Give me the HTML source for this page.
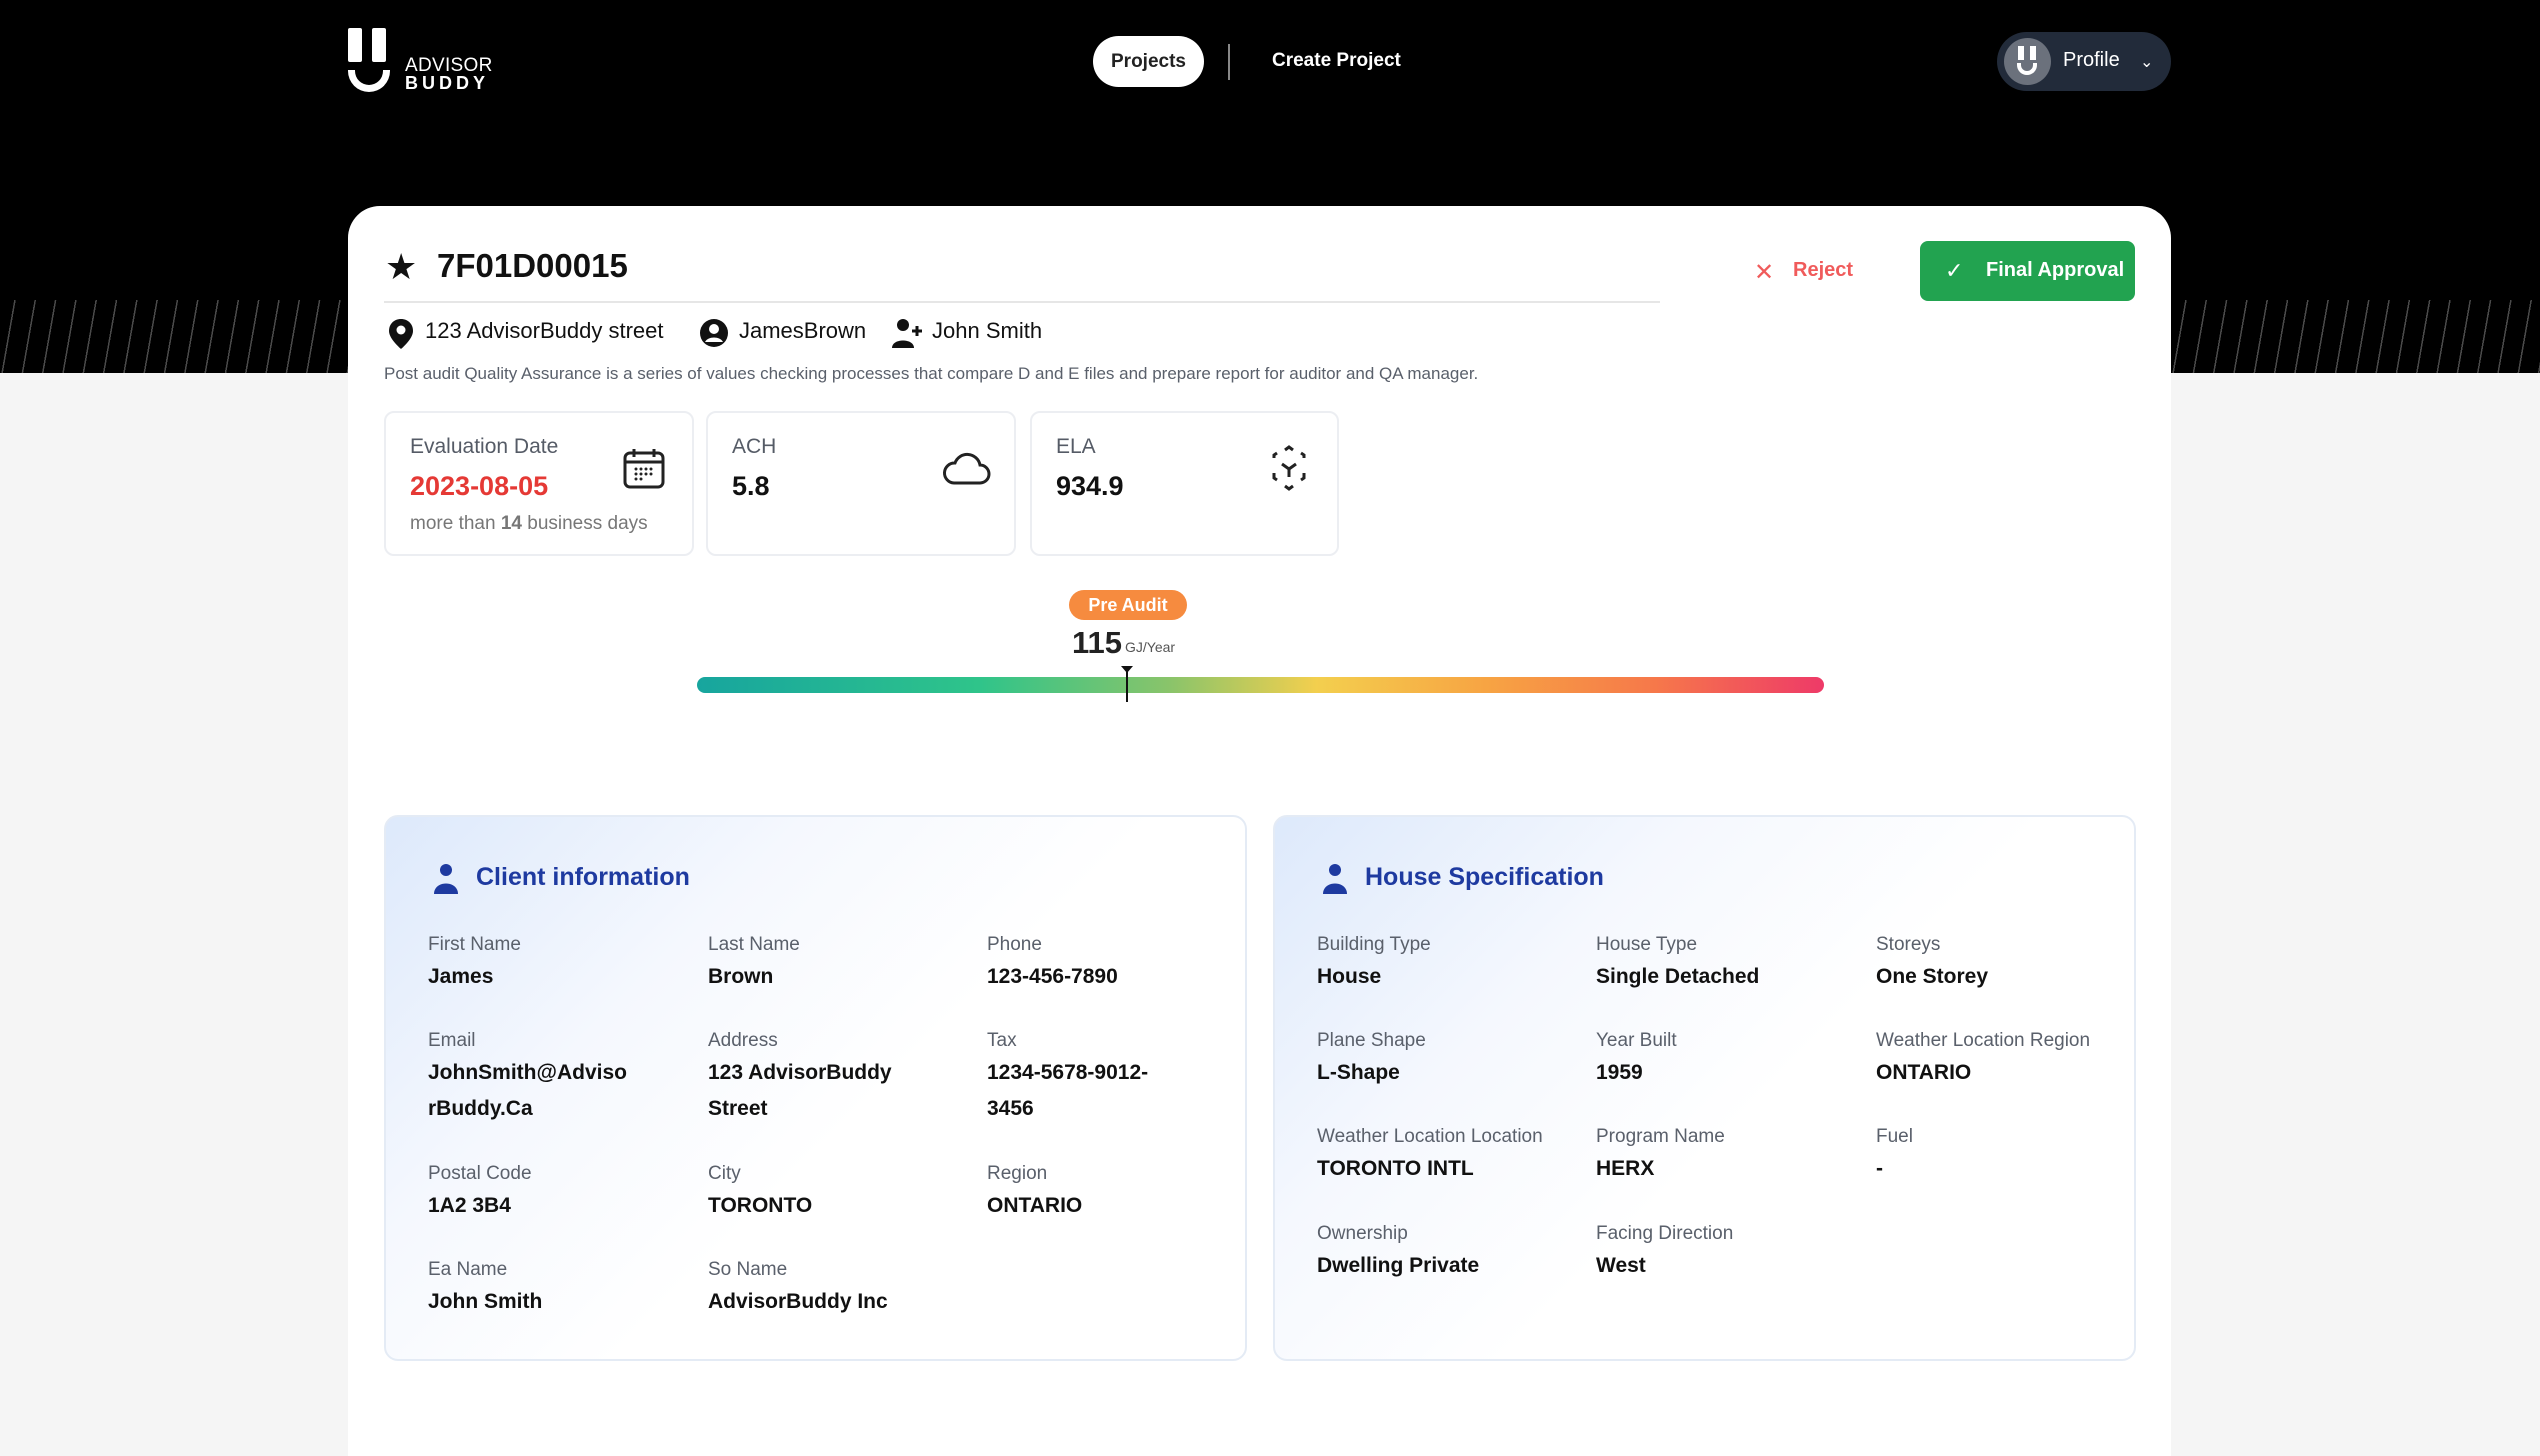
<!DOCTYPE html>
<html><head><meta charset="utf-8"><style>
*{margin:0;padding:0;box-sizing:border-box}
body{width:2540px;height:1410px;background:#f5f5f5;font-family:"Liberation Sans",sans-serif;position:relative;overflow:hidden;color:#111}
.hdr{position:absolute;left:0;top:0;width:2540px;height:373px;background:#000}
.hatch{position:absolute;top:300px;height:73px;background:repeating-linear-gradient(100deg,transparent 0 14px,#4a4a4a 14px 15.5px,transparent 15.5px 20px)}
.a{position:absolute;white-space:nowrap}
.card{position:absolute;left:348px;top:206px;width:1823px;height:1250px;background:#fff;border-radius:32px 32px 0 0}
.stat{position:absolute;top:411px;height:145px;border:2px solid #eceef2;border-radius:10px;background:#fff}
.stat .l{position:absolute;left:24px;top:22px;font-size:21px;color:#555b66}
.stat .v{position:absolute;left:24px;top:58px;font-size:27px;font-weight:bold;color:#111}
.panel{position:absolute;top:815px;height:546px;width:863px;border:2px solid #e4ebf5;border-radius:14px;background:linear-gradient(135deg,#dde9fb 0%,#f5f8fe 30%,#fff 55%)}
.pt{position:absolute;top:46px;left:90px;font-size:25px;font-weight:bold;color:#1e3aa0}
.lb{position:absolute;font-size:19px;color:#5a606b}
.vl{position:absolute;font-size:21px;font-weight:bold;color:#111;line-height:36px}
</style></head><body>
<div class="hdr"></div>
<div class="hatch" style="left:0;width:350px"></div>
<div class="hatch" style="left:2171px;width:369px"></div>
<div class="a" style="left:348px;top:28px;width:14px;height:34px;background:#fff;border-radius:2px"></div>
<div class="a" style="left:372px;top:28px;width:14px;height:34px;background:#fff;border-radius:2px"></div>
<div class="a" style="left:348px;top:70px;width:42px;height:22px;border:7px solid #fff;border-top:none;border-radius:0 0 21px 21px"></div>
<div class="a" style="left:405px;top:55px;color:#fff;font-size:19px;letter-spacing:0.3px">ADVISOR</div>
<div class="a" style="left:405px;top:73px;color:#fff;font-size:18px;font-weight:bold;letter-spacing:4px">BUDDY</div>
<div class="a" style="left:1093px;top:36px;width:111px;height:51px;background:#fff;border-radius:26px;font-size:19px;font-weight:bold;line-height:51px;text-align:center;color:#222">Projects</div>
<div class="a" style="left:1228px;top:44px;width:2px;height:36px;background:#888"></div>
<div class="a" style="left:1272px;top:50px;color:#fff;font-size:19px;font-weight:bold">Create Project</div>
<div class="a" style="left:1997px;top:32px;width:174px;height:59px;background:#222b3a;border-radius:30px"></div>
<div class="a" style="left:2004px;top:38px;width:47px;height:47px;background:#6b717c;border-radius:50%"></div>
<div class="a" style="left:2018px;top:46px;width:6px;height:14px;background:#fff"></div>
<div class="a" style="left:2030px;top:46px;width:6px;height:14px;background:#fff"></div>
<div class="a" style="left:2017px;top:63px;width:20px;height:12px;border:4px solid #fff;border-top:none;border-radius:0 0 10px 10px"></div>
<div class="a" style="left:2063px;top:49px;color:#fff;font-size:20px">Profile</div>
<div class="a" style="left:2140px;top:52px;color:#fff;font-size:16px">&#8964;</div>
<div class="card"></div>
<div class="a" style="left:385px;top:246px;font-size:36px">&#9733;</div>
<div class="a" style="left:437px;top:247px;font-size:33px;font-weight:bold">7F01D00015</div>
<div class="a" style="left:384px;top:301px;width:1276px;height:2px;background:#e6e6e6"></div>
<div class="a" style="left:1754px;top:258px;font-size:24px;color:#f05b5b">&#10005;</div>
<div class="a" style="left:1793px;top:259px;font-size:20px;font-weight:bold;color:#f05b5b">Reject</div>
<div class="a" style="left:1920px;top:241px;width:215px;height:60px;background:#22a350;border-radius:8px"></div>
<div class="a" style="left:1945px;top:258px;font-size:22px;color:#fff">&#10003;</div>
<div class="a" style="left:1986px;top:259px;font-size:20px;font-weight:bold;color:#fff">Final Approval</div>
<svg class="a" style="left:388px;top:318px" width="26" height="32" viewBox="0 0 26 32"><path d="M13 1C6 1 1 6 1 13c0 8 12 18 12 18s12-10 12-18C25 6 20 1 13 1z" fill="#111"/><circle cx="13" cy="12" r="4.5" fill="#fff"/></svg>
<div class="a" style="left:425px;top:318px;font-size:22px">123 AdvisorBuddy street</div>
<svg class="a" style="left:699px;top:318px" width="30" height="30" viewBox="0 0 30 30"><circle cx="15" cy="15" r="14" fill="#111"/><circle cx="15" cy="11" r="5" fill="#fff"/><path d="M6 24c3-6 15-6 18 0" fill="#fff"/></svg>
<div class="a" style="left:739px;top:318px;font-size:22px">JamesBrown</div>
<svg class="a" style="left:891px;top:316px" width="34" height="34" viewBox="0 0 34 34"><circle cx="12" cy="9" r="6" fill="#111"/><path d="M1 32c0-10 22-10 22 0z" fill="#111"/><path d="M26 10v10M21 15h10" stroke="#111" stroke-width="3"/></svg>
<div class="a" style="left:932px;top:318px;font-size:22px">John Smith</div>
<div class="a" style="left:384px;top:364px;font-size:17px;color:#5a606b">Post audit Quality Assurance is a series of values checking processes that compare D and E files and prepare report for auditor and QA manager.</div>
<div class="stat" style="left:384px;width:310px"><div class="l">Evaluation Date</div><div class="v" style="color:#e53935">2023-08-05</div><div class="a" style="left:24px;top:100px;font-size:19px;color:#777">more than <b>14</b> business days</div>
<svg class="a" style="left:236px;top:34px" width="44" height="44" viewBox="0 0 44 44"><rect x="3" y="6" width="38" height="34" rx="5" fill="none" stroke="#222" stroke-width="3"/><path d="M3 15h38M12 2v8M32 2v8" stroke="#222" stroke-width="3"/><g fill="#222"><circle cx="14" cy="22" r="1.5"/><circle cx="19" cy="22" r="1.5"/><circle cx="24" cy="22" r="1.5"/><circle cx="29" cy="22" r="1.5"/><circle cx="14" cy="27" r="1.5"/><circle cx="19" cy="27" r="1.5"/><circle cx="24" cy="27" r="1.5"/><circle cx="29" cy="27" r="1.5"/><circle cx="14" cy="32" r="1.5"/><circle cx="19" cy="32" r="1.5"/></g></svg></div>
<div class="stat" style="left:706px;width:310px"><div class="l">ACH</div><div class="v">5.8</div>
<svg class="a" style="left:234px;top:34px" width="50" height="40" viewBox="0 0 50 40"><path d="M12 36h26a9 9 0 0 0 0-18 13 13 0 0 0-25-2A10 10 0 0 0 12 36z" fill="none" stroke="#222" stroke-width="3"/></svg></div>
<div class="stat" style="left:1030px;width:309px"><div class="l">ELA</div><div class="v">934.9</div>
<svg class="a" style="left:234px;top:32px" width="46" height="46" viewBox="0 0 46 46" fill="none" stroke="#222" stroke-width="3"><path d="M19 5l4-3 4 3M8 13v-3l3-2M35 8l3 2v3M8 28v5l3 2M38 28v5l-3 2M19 41l4 3 4-3M16 19l7 5 7-5M23 24v8"/></svg></div>
<div class="a" style="left:1069px;top:590px;width:118px;height:30px;background:#f68b3f;border-radius:15px;color:#fff;font-size:18px;font-weight:bold;text-align:center;line-height:30px">Pre Audit</div>
<div class="a" style="left:1072px;top:625px;font-size:31px;font-weight:bold;color:#222">115</div>
<div class="a" style="left:1125px;top:639px;font-size:14px;color:#555">GJ/Year</div>
<div class="a" style="left:697px;top:677px;width:1127px;height:16px;border-radius:8px;background:linear-gradient(90deg,#17a59e 0%,#2fc48a 25%,#8ac46a 42%,#f3cf4e 55%,#f7a443 70%,#f6784a 85%,#ee3a68 100%)"></div>
<div class="a" style="left:1126px;top:670px;width:2px;height:32px;background:#111"></div>
<div class="a" style="left:1121px;top:666px;width:0;height:0;border-left:6px solid transparent;border-right:6px solid transparent;border-top:7px solid #111"></div>
<div class="panel" style="left:384px">
<svg class="a" style="left:46px;top:46px" width="28" height="32" viewBox="0 0 28 32"><circle cx="14" cy="7" r="6" fill="#1e3aa0"/><path d="M2 31c0-14 24-14 24 0z" fill="#1e3aa0"/></svg>
<div class="pt">Client information</div>
<div class="lb" style="left:42px;top:117px">First Name</div><div class="vl" style="left:42px;top:142px">James</div>
<div class="lb" style="left:322px;top:117px">Last Name</div><div class="vl" style="left:322px;top:142px">Brown</div>
<div class="lb" style="left:601px;top:117px">Phone</div><div class="vl" style="left:601px;top:142px">123-456-7890</div>
<div class="lb" style="left:42px;top:213px">Email</div><div class="vl" style="left:42px;top:238px">JohnSmith@Adviso<br>rBuddy.Ca</div>
<div class="lb" style="left:322px;top:213px">Address</div><div class="vl" style="left:322px;top:238px">123 AdvisorBuddy<br>Street</div>
<div class="lb" style="left:601px;top:213px">Tax</div><div class="vl" style="left:601px;top:238px">1234-5678-9012-<br>3456</div>
<div class="lb" style="left:42px;top:346px">Postal Code</div><div class="vl" style="left:42px;top:371px">1A2 3B4</div>
<div class="lb" style="left:322px;top:346px">City</div><div class="vl" style="left:322px;top:371px">TORONTO</div>
<div class="lb" style="left:601px;top:346px">Region</div><div class="vl" style="left:601px;top:371px">ONTARIO</div>
<div class="lb" style="left:42px;top:442px">Ea Name</div><div class="vl" style="left:42px;top:467px">John Smith</div>
<div class="lb" style="left:322px;top:442px">So Name</div><div class="vl" style="left:322px;top:467px">AdvisorBuddy Inc</div>
</div>
<div class="panel" style="left:1273px">
<svg class="a" style="left:46px;top:46px" width="28" height="32" viewBox="0 0 28 32"><circle cx="14" cy="7" r="6" fill="#1e3aa0"/><path d="M2 31c0-14 24-14 24 0z" fill="#1e3aa0"/></svg>
<div class="pt">House Specification</div>
<div class="lb" style="left:42px;top:117px">Building Type</div><div class="vl" style="left:42px;top:142px">House</div>
<div class="lb" style="left:321px;top:117px">House Type</div><div class="vl" style="left:321px;top:142px">Single Detached</div>
<div class="lb" style="left:601px;top:117px">Storeys</div><div class="vl" style="left:601px;top:142px">One Storey</div>
<div class="lb" style="left:42px;top:213px">Plane Shape</div><div class="vl" style="left:42px;top:238px">L-Shape</div>
<div class="lb" style="left:321px;top:213px">Year Built</div><div class="vl" style="left:321px;top:238px">1959</div>
<div class="lb" style="left:601px;top:213px">Weather Location Region</div><div class="vl" style="left:601px;top:238px">ONTARIO</div>
<div class="lb" style="left:42px;top:309px">Weather Location Location</div><div class="vl" style="left:42px;top:334px">TORONTO INTL</div>
<div class="lb" style="left:321px;top:309px">Program Name</div><div class="vl" style="left:321px;top:334px">HERX</div>
<div class="lb" style="left:601px;top:309px">Fuel</div><div class="vl" style="left:601px;top:334px">-</div>
<div class="lb" style="left:42px;top:406px">Ownership</div><div class="vl" style="left:42px;top:431px">Dwelling Private</div>
<div class="lb" style="left:321px;top:406px">Facing Direction</div><div class="vl" style="left:321px;top:431px">West</div>
</div>
</body></html>
